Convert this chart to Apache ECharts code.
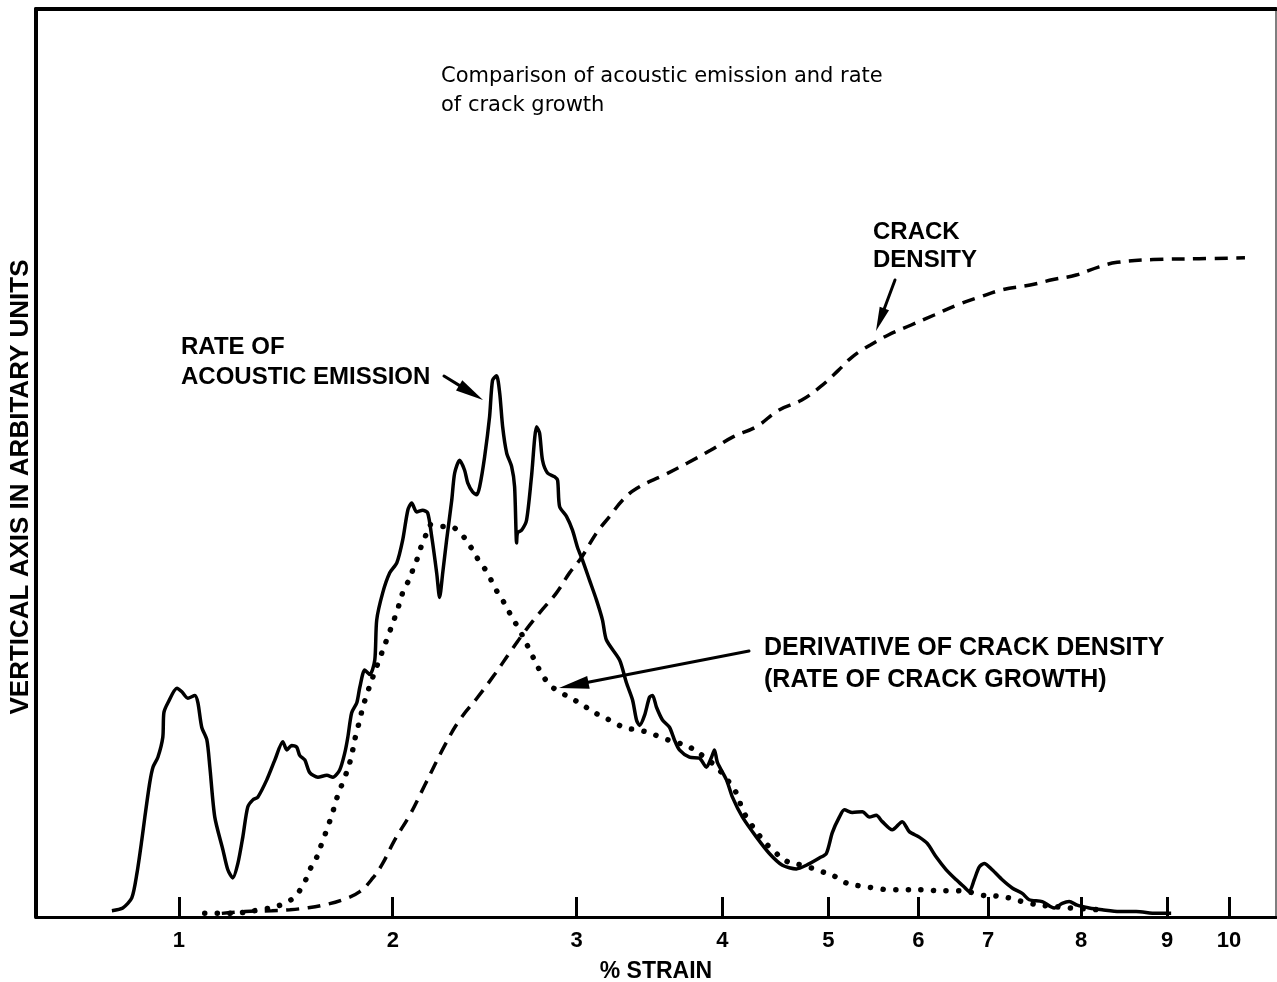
<!DOCTYPE html>
<html>
<head>
<meta charset="utf-8">
<script src="https://cdn.jsdelivr.net/npm/echarts@6/dist/echarts.min.js"></script>
<style>
  html, body { margin: 0; padding: 0; background: #fff; }
  #chart { width: 1277px; height: 982px; }
</style>
</head>
<body>
<div id="chart"></div>
<script>
// Strain axis is non-uniform: each labelled strain sits at its own place along the axis (0–100).
const STRAIN_TICKS = [1, 2, 3, 4, 5, 6, 7, 8, 9, 10];
const TICK_POS = [11.52, 28.77, 43.59, 55.36, 63.90, 71.15, 76.79, 84.29, 91.22, 96.21];

// Rate of acoustic emission (solid)
const emissionStrain = [0.687,0.738,0.780,0.804,0.827,0.841,0.864,0.879,0.902,0.925,0.930,0.949,0.991,1.014,1.042,1.075,1.089,1.107,1.131,1.145,1.168,1.206,1.229,1.252,1.276,1.299,1.322,1.346,1.369,1.411,1.449,1.486,1.505,1.528,1.551,1.565,1.589,1.612,1.650,1.692,1.720,1.752,1.776,1.790,1.808,1.832,1.846,1.869,1.893,1.916,1.925,1.953,1.986,2.022,2.054,2.082,2.103,2.130,2.163,2.190,2.212,2.239,2.255,2.272,2.293,2.321,2.337,2.364,2.391,2.408,2.435,2.457,2.473,2.500,2.527,2.543,2.565,2.582,2.598,2.620,2.647,2.663,2.674,2.679,2.701,2.728,2.755,2.783,2.799,2.815,2.842,2.880,2.897,2.908,2.946,2.978,3.007,3.041,3.089,3.137,3.178,3.205,3.295,3.342,3.384,3.411,3.432,3.466,3.500,3.521,3.548,3.589,3.637,3.671,3.705,3.774,3.842,3.890,3.925,3.945,3.966,4.038,4.094,4.189,4.321,4.443,4.566,4.698,4.792,4.915,4.981,5.044,5.122,5.178,5.267,5.378,5.456,5.533,5.600,5.711,5.822,5.900,6.014,6.129,6.257,6.400,6.543,6.657,6.729,6.800,6.871,6.943,7.043,7.151,7.258,7.366,7.441,7.581,7.710,7.796,7.871,7.957,8.093,8.244,8.442,8.640,8.872,9.065];
const emissionValue = [0.7,1.0,2.1,4.8,8.5,11.0,14.8,16.5,17.6,19.8,22.5,23.6,25.2,24.8,24.1,24.4,23.6,20.9,19.5,16.5,11.0,7.4,5.2,4.3,5.9,8.8,12.1,12.9,13.2,15.1,17.3,19.3,18.4,18.9,18.7,17.8,17.3,15.9,15.4,15.6,15.4,16.2,18.1,19.8,22.5,23.6,25.3,27.2,26.7,28.3,32.7,35.7,37.9,39.0,41.5,44.8,45.6,44.6,44.8,44.5,41.9,37.9,35.2,37.9,41.5,45.9,48.9,50.3,49.2,47.8,46.8,46.5,47.4,50.7,55.1,59.1,59.6,57.7,54.0,51.1,49.6,47.4,41.2,42.3,42.6,43.7,48.5,54.0,53.3,50.3,48.9,48.5,48.1,45.2,44.1,42.6,40.7,39.3,37.1,34.9,32.7,30.5,28.3,25.8,23.9,21.7,21.1,22.2,24.2,24.4,23.1,21.7,20.9,19.5,18.4,17.6,17.5,16.5,17.6,18.4,17.0,15.1,13.2,11.0,8.8,7.0,5.7,5.3,5.7,6.5,7.0,9.3,11.0,11.8,11.5,11.6,11.0,11.2,10.5,9.6,10.5,9.4,8.8,8.1,6.6,5.2,4.1,3.3,2.8,4.1,5.5,5.9,5.2,4.1,3.2,2.6,1.9,1.7,1.0,1.5,1.7,1.3,1.0,0.8,0.6,0.6,0.4,0.4];

// Derivative of crack density — rate of crack growth (dotted)
const growthStrain = [1.121,1.229,1.379,1.495,1.551,1.589,1.612,1.645,1.668,1.696,1.720,1.743,1.776,1.799,1.813,1.827,1.846,1.860,1.883,1.902,2.022,2.054,2.092,2.114,2.136,2.158,2.185,2.201,2.255,2.310,2.375,2.429,2.473,2.516,2.554,2.592,2.625,2.652,2.690,2.745,2.799,2.853,2.908,2.989,3.158,3.240,3.322,3.418,3.500,3.589,3.692,3.788,3.877,3.959,4.066,4.142,4.189,4.255,4.321,4.396,4.472,4.613,4.755,4.915,5.089,5.211,5.367,5.511,5.678,5.844,6.057,6.271,6.471,6.700,6.914,7.086,7.226,7.441,7.763,8.209];
const growthValue = [0.4,0.4,0.8,1.5,2.5,3.9,5.2,6.6,8.1,9.9,11.6,13.4,15.4,17.0,18.4,20.0,21.7,23.1,24.8,26.1,33.6,35.7,37.3,38.5,39.6,41.0,42.3,43.2,43.0,43.0,42.1,40.6,39.1,37.9,36.3,35.1,33.9,32.9,31.6,29.4,27.2,25.6,24.8,23.9,22.2,21.6,20.9,20.6,20.3,19.7,19.2,18.6,17.6,16.5,14.8,13.4,11.8,10.5,9.4,8.3,7.4,6.1,5.7,5.1,4.4,3.7,3.4,3.2,3.0,3.0,3.0,2.9,2.9,2.8,2.4,2.3,2.1,1.5,1.1,0.8];

// Crack density (dashed)
const densityStrain = [1.201,1.308,1.435,1.519,1.598,1.673,1.766,1.846,1.907,1.953,2.011,2.092,2.174,2.283,2.364,2.462,2.554,2.636,2.717,2.799,2.891,2.962,3.034,3.137,3.226,3.315,3.411,3.603,3.760,3.918,4.104,4.321,4.528,4.745,4.925,5.111,5.267,5.467,5.667,5.922,6.229,6.557,6.886,7.161,7.452,7.699,7.946,8.209,8.419,8.837,9.516,10.258];
const densityValue = [0.4,0.6,0.7,0.8,1.0,1.3,1.9,2.8,4.3,5.9,8.5,11.2,14.5,18.9,21.7,24.2,26.7,29.1,31.4,33.5,35.7,37.9,39.6,42.3,44.1,45.9,47.2,48.7,50.0,51.4,52.9,54.0,55.8,56.9,58.4,60.2,61.7,63.0,64.1,65.2,66.3,67.4,68.3,69.1,69.6,70.2,70.7,71.6,72.1,72.4,72.5,72.6];

// Map a strain value onto the axis, piecewise-linear between the labelled strains.
function strainToPos(s) {
  const n = STRAIN_TICKS.length;
  let i = 0;
  while (i < n - 2 && s > STRAIN_TICKS[i + 1]) i++;
  const s0 = STRAIN_TICKS[i], s1 = STRAIN_TICKS[i + 1];
  const p0 = TICK_POS[i], p1 = TICK_POS[i + 1];
  return p0 + (s - s0) * (p1 - p0) / (s1 - s0);
}
function pairs(xs, ys) { return xs.map((s, i) => [strainToPos(s), ys[i]]); }

function arrow(x1, y1, x2, y2, len, half, width) {
  const dx = x2 - x1, dy = y2 - y1, d = Math.hypot(dx, dy);
  const ux = dx / d, uy = dy / d;
  const bx = x2 - ux * len, by = y2 - uy * len;
  return [
    { type: 'line', shape: { x1: x1, y1: y1, x2: bx + ux * 3, y2: by + uy * 3 },
      style: { stroke: '#000', lineWidth: width, lineCap: 'round' } },
    { type: 'polygon',
      shape: { points: [[x2, y2], [bx - uy * half, by + ux * half], [bx + uy * half, by - ux * half]] },
      style: { fill: '#000' } }
  ];
}

const LABEL_FONT = '"Liberation Sans", Arial, sans-serif';

const chart = echarts.init(document.getElementById('chart'));
chart.setOption({
  animation: false,
  backgroundColor: '#fff',
  grid: { left: 36, right: 1, top: 9, bottom: 65, containLabel: false, outerBoundsMode: 'none' },
  xAxis: [{
    type: 'value', min: 0, max: 100,
    name: '% STRAIN', nameLocation: 'middle', nameGap: 43,
    nameTextStyle: { fontFamily: LABEL_FONT, fontWeight: 'bold', fontSize: 23, color: '#000' },
    axisLine: { show: true, onZero: false, lineStyle: { color: '#000', width: 3 } },
    axisTick: { show: true, inside: true, length: 20, customValues: TICK_POS,
      lineStyle: { color: '#000', width: 3 } },
    axisLabel: { show: true, customValues: TICK_POS, margin: 13,
      fontFamily: LABEL_FONT, fontWeight: 'bold', fontSize: 22, color: '#000',
      formatter: function (v) {
        const i = TICK_POS.findIndex(p => Math.abs(p - v) < 1e-6);
        return i >= 0 ? String(STRAIN_TICKS[i]) : '';
      } },
    splitLine: { show: false }
  }, {
    type: 'value', min: 0, max: 100, position: 'top',
    axisLine: { show: true, onZero: false, lineStyle: { color: '#000', width: 4 } },
    axisTick: { show: false }, axisLabel: { show: false }, splitLine: { show: false }
  }],
  yAxis: [{
    type: 'value', min: 0, max: 100,
    axisLine: { show: true, onZero: false, lineStyle: { color: '#000', width: 4 } },
    axisTick: { show: false }, axisLabel: { show: false }, splitLine: { show: false }
  }, {
    type: 'value', min: 0, max: 100, position: 'right',
    axisLine: { show: true, onZero: false, lineStyle: { color: '#555', width: 1.5 } },
    axisTick: { show: false }, axisLabel: { show: false }, splitLine: { show: false }
  }],
  series: [{
    name: 'Rate of acoustic emission', type: 'line', symbol: 'none', smooth: 0.25,
    data: pairs(emissionStrain, emissionValue),
    lineStyle: { color: '#000', width: 3.5, join: 'round' }
  }, {
    name: 'Rate of crack growth', type: 'line', symbol: 'none', smooth: 0.4,
    data: pairs(growthStrain, growthValue),
    lineStyle: { color: '#000', width: 5.5, type: [0.1, 12.5], cap: 'round' }
  }, {
    name: 'Crack density', type: 'line', symbol: 'none', smooth: 0.4,
    data: pairs(densityStrain, densityValue),
    lineStyle: { color: '#000', width: 3.5, type: [13, 8.5] }
  }],
  graphic: [
    { type: 'text', x: 21, y: 487, rotation: Math.PI / 2,
      style: { text: 'VERTICAL AXIS IN ARBITARY UNITS', font: 'bold 26px ' + LABEL_FONT,
        fill: '#000', align: 'center', verticalAlign: 'middle' } },
    { type: 'text', left: 441, top: 62,
      style: { text: 'Comparison of acoustic emission and rate\nof crack growth',
        font: '21px "DejaVu Sans", sans-serif', fill: '#000', lineHeight: 29 } },
    { type: 'text', left: 873, top: 218,
      style: { text: 'CRACK\nDENSITY', font: 'bold 24px ' + LABEL_FONT, fill: '#000', lineHeight: 28 } },
    { type: 'text', left: 181, top: 332,
      style: { text: 'RATE OF\nACOUSTIC EMISSION', font: 'bold 24px ' + LABEL_FONT, fill: '#000', lineHeight: 30 } },
    { type: 'text', left: 764, top: 632,
      style: { text: 'DERIVATIVE OF CRACK DENSITY\n(RATE OF CRACK GROWTH)',
        font: 'bold 25px ' + LABEL_FONT, fill: '#000', lineHeight: 32 } }
  ].concat(
    arrow(895, 280, 876, 331, 24, 5, 3),
    arrow(444, 376, 483, 400, 28, 6, 3),
    arrow(749, 651, 559, 688, 30, 6.5, 3)
  )
});
</script>
</body>
</html>
